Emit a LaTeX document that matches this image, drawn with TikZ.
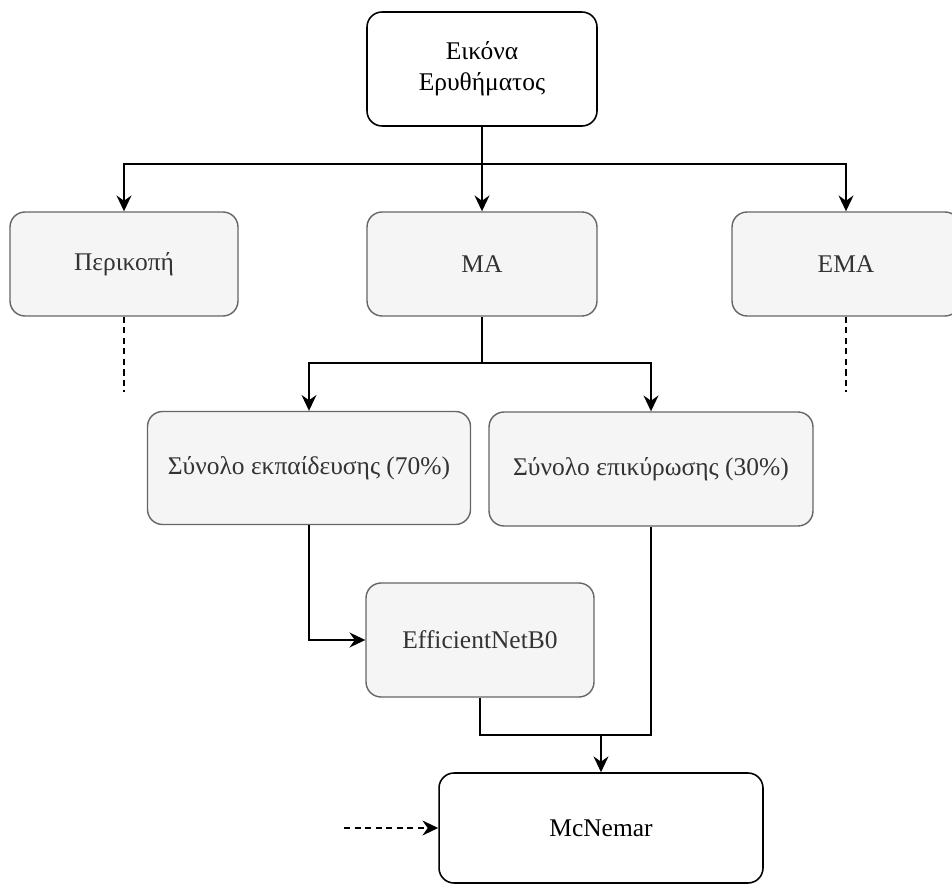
\documentclass[tikz,border=0pt]{standalone}
\usepackage{fontspec}
\setmainfont{Liberation Serif}
\usetikzlibrary{arrows.meta}
\definecolor{boxfill}{HTML}{F5F5F5}
\definecolor{boxline}{HTML}{666666}
\definecolor{boxtext}{HTML}{333333}

\begin{document}
\begin{tikzpicture}[x=0.02cm, y=-0.02cm,
        every node/.style={font=\fontsize{14.5}{17.5}\selectfont, align=center},
        graybox/.style={draw=boxline, fill=boxfill, text=boxtext, rounded corners=0.3cm, line width=0.8pt},
        whitebox/.style={draw=black, fill=white, rounded corners=0.3cm, line width=0.9pt},
        flow/.style={-{Stealth[length=9pt, width=8.5pt, inset=3pt]}, line width=1pt},
        dashline/.style={line width=1pt, dash pattern=on 3.5pt off 2.5pt}]
        \useasboundingbox (0,0) rectangle (952,884);

        % boxes
        \node[whitebox, minimum width=4.6cm, minimum height=2.28cm] (image) at (482,69) {Εικόνα\\Ερυθήματος};
        \node[graybox, minimum width=4.56cm, minimum height=2.08cm] (crop) at (124,264) {Περικοπή};
        \node[graybox, minimum width=4.6cm, minimum height=2.08cm] (ma) at (482,264) {MA};
        \node[graybox, minimum width=4.56cm, minimum height=2.08cm] (ema) at (846,264) {EMA};
        \node[graybox, minimum width=6.46cm, minimum height=2.26cm] (train) at (309,468) {Σύνολο εκπαίδευσης (70\%)};
        \node[graybox, minimum width=6.48cm, minimum height=2.28cm] (val) at (651,469) {Σύνολο επικύρωσης (30\%)};
        \node[graybox, minimum width=4.56cm, minimum height=2.28cm] (effnet) at (480,640) {EfficientNetB0};
        \node[whitebox, minimum width=6.48cm, minimum height=2.2cm] (mcnemar) at (601,828) {McNemar};

        % junction points
        \coordinate (split) at (482,164);
        \coordinate (masplit) at (482,363);
        \coordinate (join) at (601,735);
        \coordinate (cropend) at (124,392);
        \coordinate (emaend) at (846,392);
        \coordinate (mcin) at (344,828);

        % connectors
        \draw[flow] (image.south) -- (ma.north);
        \draw[flow] (split) -| (crop.north);
        \draw[flow] (split) -| (ema.north);
        \draw[dashline] (crop.south) -- (cropend);
        \draw[dashline] (ema.south) -- (emaend);
        \draw[line width=1pt] (ma.south) -- (masplit);
        \draw[flow] (masplit) -| (train.north);
        \draw[flow] (masplit) -| (val.north);
        \draw[flow] (train.south) |- (effnet.west);
        \draw[line width=1pt] (effnet.south) |- (join);
        \draw[line width=1pt] (val.south) |- (join);
        \draw[flow] (join) -- (mcnemar.north);
        \draw[flow, dashline] (mcin) -- (mcnemar.west);
\end{tikzpicture}
\end{document}
